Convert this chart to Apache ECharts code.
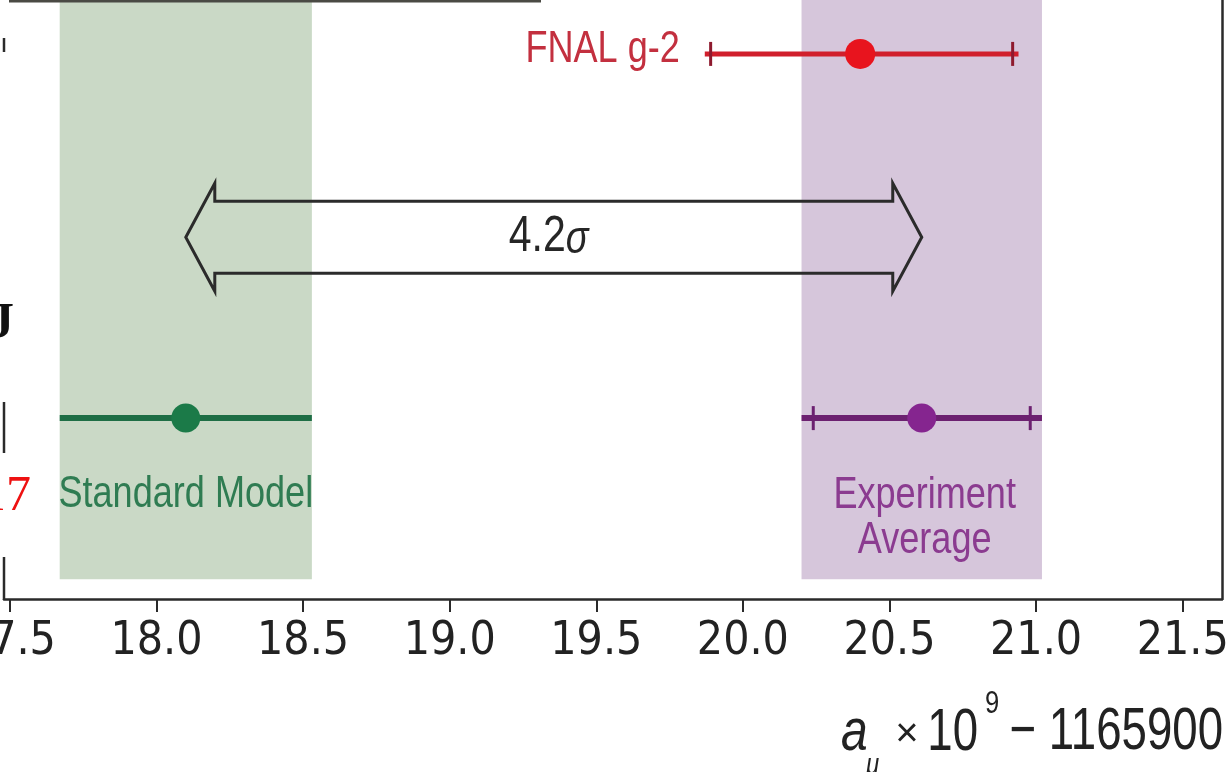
<!DOCTYPE html>
<html><head><meta charset="utf-8">
<script src="https://cdn.jsdelivr.net/npm/echarts@6/dist/echarts.min.js"></script>
<style>html,body{margin:0;padding:0;background:#fff;overflow:hidden}#c{width:1231px;height:772px}</style>
</head><body><div id="c"></div>
<script>
// ---- data ----
const tickValues = [17.5, 18.0, 18.5, 19.0, 19.5, 20.0, 20.5, 21.0, 21.5];
const tickLabels = ['17.5', '18.0', '18.5', '19.0', '19.5', '20.0', '20.5', '21.0', '21.5'];
const xRange = [17.48, 21.634];
const yRange = [0, 10];
const arrowRow = 6.04;
const smPoint = [18.10, 3.02];
const smBar = [17.67, 18.53];
const expPoint = [20.61, 3.02];
const expBar = [20.20, 21.02];
const expBarTicks = [20.24, 20.98];
const fnalPoint = [20.40, 9.10];
const fnalBar = [19.87, 20.94];
const fnalBarTicks = [19.89, 20.92];
const smBand = [17.67, 18.53, 0.33, 10];
const expBand = [20.20, 21.02, 0.33, 10];
const tensionValue = '4.2';
const tensionUnit = 'σ';
const labelItems = [
  [18.10, 1.74, 'Standard Model', 'sm'],
  [20.62, 1.35, 'Experiment\nAverage', 'exp'],
  [19.785, 9.17, 'FNAL g-2', 'fnal']
];

// ---- styles ----
const SANS = '"Liberation Sans", Arial, sans-serif';
const COND = '"DejaVu Sans Condensed", "Liberation Sans", sans-serif';
const NARROW_SCALE = 0.82;
const C = {
  smBand: '#cad9c6', expBand: '#d6c6db',
  smLine: '#1e6e45', smDot: '#1b7a48', smText: '#2f7c52',
  expLine: '#6c2070', expDot: '#85258f', expText: '#8b3b90',
  fnalLine: '#d11f2c', fnalDot: '#e8141e', fnalTick: '#8e1a2e', fnalText: '#c3303f',
  axis: '#2a2a2a', arrow: '#2b2b2b'
};
const labelColor = { sm: C.smText, exp: C.expText, fnal: C.fnalText };

function bandSeries(band, color) {
  return {
    type: 'custom', data: [band], z: 1, silent: true,
    renderItem(params, api) {
      const p1 = api.coord([api.value(0), api.value(3)]);
      const p2 = api.coord([api.value(1), api.value(2)]);
      return { type: 'rect', shape: { x: p1[0], y: p1[1], width: p2[0] - p1[0], height: p2[1] - p1[1] },
        style: { fill: color } };
    }
  };
}

function barSeries(bar, y, ticks, color, tickColor, lw) {
  const row = [bar[0], bar[1], y].concat(ticks);
  return {
    type: 'custom', data: [row], z: 3, silent: true,
    renderItem(params, api) {
      const yy = api.value(2);
      const a = api.coord([api.value(0), yy]);
      const b = api.coord([api.value(1), yy]);
      const children = [{ type: 'line', shape: { x1: a[0], y1: a[1], x2: b[0], y2: b[1] },
        style: { stroke: color, lineWidth: lw } }];
      for (let i = 3; i < row.length; i++) {
        const p = api.coord([api.value(i), yy]);
        children.push({ type: 'line', shape: { x1: p[0], y1: p[1] - 12, x2: p[0], y2: p[1] + 12 },
          style: { stroke: tickColor, lineWidth: 3 } });
      }
      return { type: 'group', children };
    }
  };
}

function dot(point, color, size) {
  return { type: 'scatter', data: [point], symbolSize: size, z: 4, silent: true,
    itemStyle: { color: color, opacity: 1 } };
}

const option = {
  animation: false,
  backgroundColor: '#ffffff',
  grid: { left: 4, right: 9, top: 0, bottom: 173, containLabel: false, outerBoundsMode: 'none' },
  xAxis: {
    type: 'value', min: xRange[0], max: xRange[1],
    splitLine: { show: false },
    axisLine: { show: true, onZero: false, lineStyle: { color: C.axis, width: 2.5 } },
    axisTick: { show: true, customValues: tickValues, length: 13, lineStyle: { color: C.axis, width: 2 } },
    axisLabel: { show: true, customValues: tickValues, margin: 20, hideOverlap: false,
      formatter: v => tickLabels[tickValues.findIndex(t => Math.abs(t - v) < 1e-6)] || '',
      fontFamily: COND, fontSize: 46, color: '#222' }
  },
  yAxis: [
    { type: 'value', min: yRange[0], max: yRange[1], position: 'left',
      splitLine: { show: false }, axisLine: { show: false }, axisTick: { show: false }, axisLabel: { show: false } },
    { type: 'value', min: yRange[0], max: yRange[1], position: 'right',
      splitLine: { show: false }, axisLine: { show: true, lineStyle: { color: C.axis, width: 2.5 } },
      axisTick: { show: false }, axisLabel: { show: false } }
  ],
  series: [
    bandSeries(smBand, C.smBand),
    bandSeries(expBand, C.expBand),
    barSeries(smBar, smPoint[1], [], C.smLine, C.smLine, 6),
    barSeries(expBar, expPoint[1], expBarTicks, C.expLine, C.expLine, 6),
    barSeries(fnalBar, fnalPoint[1], fnalBarTicks, C.fnalLine, C.fnalTick, 5),
    dot(smPoint, C.smDot, 29),
    dot(expPoint, C.expDot, 29),
    dot(fnalPoint, C.fnalDot, 30),
    {
      type: 'custom', z: 5, silent: true,
      data: [[smPoint[0], expPoint[0], arrowRow]],
      renderItem(params, api) {
        const y = api.value(2);
        const L = api.coord([api.value(0), y]);
        const R = api.coord([api.value(1), y]);
        const cy = L[1], hs = 36, hh = 54, hl = 29;
        const mid = (L[0] + R[0]) / 2;
        const pts = [
          [L[0], cy], [L[0] + hl, cy - hh], [L[0] + hl, cy - hs], [R[0] - hl, cy - hs], [R[0] - hl, cy - hh],
          [R[0], cy], [R[0] - hl, cy + hh], [R[0] - hl, cy + hs], [L[0] + hl, cy + hs], [L[0] + hl, cy + hh]
        ];
        return { type: 'group', children: [
          { type: 'polygon', shape: { points: pts }, style: { fill: 'none', stroke: C.arrow, lineWidth: 3, lineJoin: 'miter' } },
          { type: 'text', x: mid + 12, y: cy, scaleX: NARROW_SCALE, style: { text: tensionValue, align: 'right', verticalAlign: 'middle',
            font: '50px ' + SANS, fill: '#262626' } },
          { type: 'text', x: mid + 12, y: cy + 3, scaleX: NARROW_SCALE, style: { text: tensionUnit, align: 'left', verticalAlign: 'middle',
            font: 'italic 46px ' + SANS, fill: '#262626' } }
        ] };
      }
    },
    {
      type: 'custom', z: 6, silent: true,
      data: labelItems,
      renderItem(params, api) {
        const item = labelItems[params.dataIndex];
        const p = api.coord([item[0], item[1]]);
        const isFnal = item[3] === 'fnal';
        return { type: 'text', x: p[0], y: p[1], scaleX: NARROW_SCALE, style: { text: item[2], align: isFnal ? 'right' : 'center',
          verticalAlign: 'middle', font: '44px ' + SANS, lineHeight: 45, fill: labelColor[item[3]] } };
      }
    }
  ],
  graphic: [
    // axis title
    { type: 'text', z: 100, x: 1223, y: 732, scaleX: 0.76, style: { text: '− 1165900', align: 'right', verticalAlign: 'middle', font: '60px ' + SANS, fill: '#222' } },
    { type: 'text', z: 100, x: 978, y: 733, scaleX: 0.76, style: { text: '10', align: 'right', verticalAlign: 'middle', font: '60px ' + SANS, fill: '#222' } },
    { type: 'text', z: 100, x: 985, y: 704, scaleX: 0.8, style: { text: '9', align: 'left', verticalAlign: 'middle', font: '32px ' + SANS, fill: '#222' } },
    { type: 'text', z: 100, x: 907, y: 735, style: { text: '×', align: 'center', verticalAlign: 'middle', font: '40px ' + SANS, fill: '#222' } },
    { type: 'text', z: 100, x: 841, y: 733, scaleX: 0.8, style: { text: 'a', align: 'left', verticalAlign: 'middle', font: 'italic 60px ' + SANS, fill: '#222' } },
    { type: 'text', z: 100, x: 866, y: 766, scaleX: 0.8, style: { text: 'μ', align: 'left', verticalAlign: 'middle', font: 'italic 30px ' + SANS, fill: '#222' } },
    // fragments of neighbouring content visible at the crop edges
    { type: 'line', z: 100, shape: { x1: 9, y1: 1, x2: 541, y2: 1 }, style: { stroke: '#4a4a44', lineWidth: 3 } },
    { type: 'line', z: 100, shape: { x1: 4, y1: 38, x2: 4, y2: 52 }, style: { stroke: C.axis, lineWidth: 2.5 } },
    { type: 'line', z: 100, shape: { x1: 4, y1: 402, x2: 4, y2: 453 }, style: { stroke: C.axis, lineWidth: 2.5 } },
    { type: 'line', z: 100, shape: { x1: 4, y1: 557, x2: 4, y2: 600 }, style: { stroke: C.axis, lineWidth: 2.5 } },
    { type: 'text', z: 100, x: 14, y: 324, style: { text: 'J', align: 'right', verticalAlign: 'middle', font: 'bold 50px "Liberation Serif", serif', fill: '#111' } },
    { type: 'text', z: 100, x: 31, y: 497, style: { text: '17', align: 'right', verticalAlign: 'middle', font: '50px "Liberation Serif", serif', fill: '#ee1111' } }
  ]
};

const chart = echarts.init(document.getElementById('c'), null, { renderer: 'canvas' });
chart.setOption(option);
</script>
</body></html>
